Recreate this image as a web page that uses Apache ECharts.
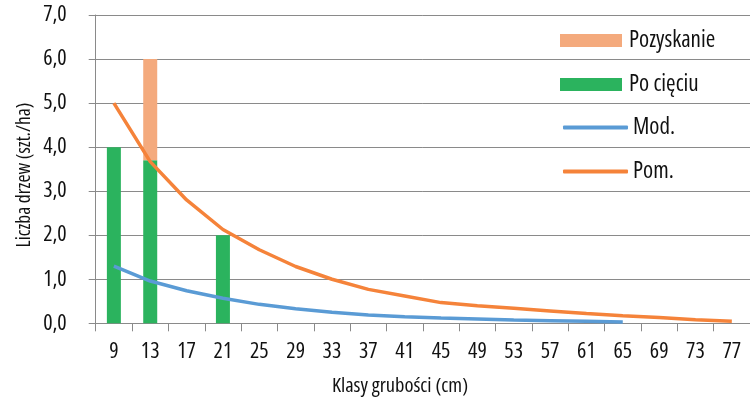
<!DOCTYPE html>
<html><head><meta charset="utf-8">
<script src="https://cdn.jsdelivr.net/npm/echarts@6/dist/echarts.min.js"></script>
<style>html,body{margin:0;padding:0;background:#fff}#c{width:750px;height:404px}</style>
</head><body><div id="c"></div>
<script>
const categories = ['9','13','17','21','25','29','33','37','41','45','49','53','57','61','65','69','73','77'];
const poCieciu =   [4.0, 3.7, null, 2.0, null, null, null, null, null, null, null, null, null, null, null, null, null, null];
const pozyskanie = [null, 2.3, null, null, null, null, null, null, null, null, null, null, null, null, null, null, null, null];
const mod = [1.30, 0.96, 0.74, 0.57, 0.43, 0.33, 0.25, 0.19, 0.15, 0.12, 0.10, 0.075, 0.06, 0.045, 0.03, null, null, null];
const pom = [5.0, 3.67, 2.8, 2.13, 1.67, 1.29, 1.0, 0.77, 0.62, 0.47, 0.40, 0.34, 0.28, 0.22, 0.17, 0.13, 0.08, 0.045];
const yTicks = [0,1,2,3,4,5,6,7];
const xTitle = 'Klasy grubości (cm)';
const yTitle = 'Liczba drzew (szt./ha)';

const FONT = "'Open Sans', 'Roboto Condensed', sans-serif";
const FS = 'semi-condensed';
const txt = (size, extra) => Object.assign({fontFamily:FONT, fontStyle:FS, fontSize:size, color:'#111'}, extra||{});
const GRID = '#8a8a8a';
const chart = echarts.init(document.getElementById('c'), null, {renderer:'canvas'});
chart.setOption({
  animation:false,
  grid:{left:95.7, right:-6.7, top:15, bottom:80.7, containLabel:false},
  legend:[{
    orient:'vertical', left:560, top:29, padding:0, itemWidth:62, itemHeight:13, itemGap:21,
    icon:'rect',
    textStyle:txt(23, {lineHeight:22, padding:[0,0,0,2]}),
    data:['Pozyskanie','Po cięciu']
  },{
    orient:'vertical', left:563, top:116, padding:0, itemWidth:65, itemHeight:4, itemGap:21,
    icon:'roundRect',
    textStyle:txt(23, {lineHeight:22}),
    data:['Mod.','Pom.']
  }],
  xAxis:{
    type:'category', data:categories, boundaryGap:true,
    axisLine:{lineStyle:{color:GRID, width:1}},
    axisTick:{show:true, length:8, lineStyle:{color:GRID}},
    axisLabel:txt(22, {margin:17})
  },
  yAxis:{
    type:'value', min:yTicks[0], max:yTicks[yTicks.length-1], interval:1,
    axisLine:{show:true, lineStyle:{color:GRID}},
    axisTick:{show:true, length:7, lineStyle:{color:GRID}},
    splitLine:{lineStyle:{color:GRID, width:1}},
    axisLabel:txt(22, {margin:29, formatter:v=>v.toFixed(1).replace('.',',')})
  },
  graphic:[
    {type:'text', x:400, y:386,
      style:{text:xTitle, fontSize:20.5, fontFamily:FONT, fontStyle:FS, fill:'#111', align:'center', verticalAlign:'middle'}},
    {type:'text', x:24, y:175, rotation:Math.PI/2,
      style:{text:yTitle, fontSize:19.5, fontFamily:FONT, fontStyle:FS, fill:'#111', align:'center', verticalAlign:'middle'}}
  ],
  series:[
    {name:'Po cięciu', type:'bar', stack:'a', data:poCieciu, barWidth:14,
      itemStyle:{color:'#2bb35e'}},
    {name:'Pozyskanie', type:'bar', stack:'a', data:pozyskanie, barWidth:14,
      itemStyle:{color:'#f4aa7d'}},
    {name:'Mod.', type:'line', data:mod, symbol:'none', z:5,
      lineStyle:{color:'#5a9bd5', width:3.5}, itemStyle:{color:'#5a9bd5'}},
    {name:'Pom.', type:'line', data:pom, symbol:'none', z:6,
      lineStyle:{color:'#f5833a', width:3.5}, itemStyle:{color:'#f5833a'}}
  ]
});
</script></body></html>
